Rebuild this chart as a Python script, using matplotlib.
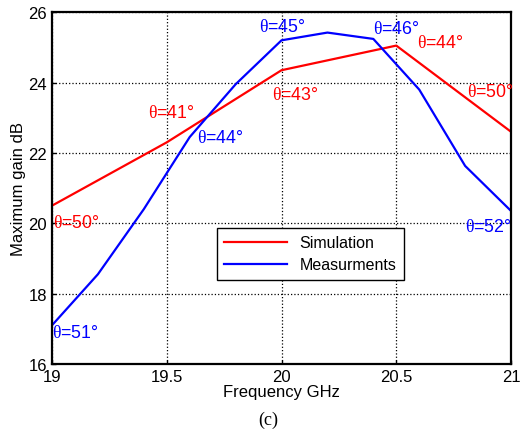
import matplotlib
matplotlib.use("Agg")
import matplotlib.pyplot as plt

plt.rcParams['font.family'] = ['Liberation Sans', 'DejaVu Sans']
plt.rcParams['mathtext.fontset'] = 'custom'
plt.rcParams['mathtext.rm'] = 'Liberation Serif'
plt.rcParams['mathtext.it'] = 'Liberation Serif'

# simulation curve
sim_freq = [19.0, 19.5, 20.0, 20.5, 21.0]
sim_gain = [20.5, 22.3, 24.35, 25.05, 22.6]

# measured curve
meas_freq = [19.0, 19.2, 19.4, 19.6, 19.8, 20.0, 20.2, 20.4, 20.6, 20.8, 21.0]
meas_gain = [17.1, 18.55, 20.4, 22.45, 23.95, 25.2, 25.42, 25.24, 23.8, 21.63, 20.35]

# angle annotations: (x, y, text, colour)
labels = [
    (19.42, 23.16, '41', 'red'),
    (19.63, 22.45, '44', 'blue'),
    (19.90, 25.60, '45', 'blue'),
    (20.40, 25.55, '46', 'blue'),
    (20.59, 25.15, '44', 'red'),
    (19.96, 23.67, '43', 'red'),
    (20.81, 23.74, '50', 'red'),
    (19.005, 20.03, '50', 'red'),
    (19.00, 16.90, '51', 'blue'),
    (20.80, 19.90, '52', 'blue'),
]

fig = plt.figure(figsize=(5.22, 4.39), dpi=100)
ax = fig.add_axes([0.0996, 0.1686, 0.8794, 0.8014])

ax.plot(sim_freq, sim_gain, color='red', lw=1.6, label='Simulation')
ax.plot(meas_freq, meas_gain, color='blue', lw=1.6, label='Measurments')

for x, y, ang, c in labels:
    ax.text(x, y, r'$\theta$=' + ang + '°', color=c, fontsize=12.8,
            ha='left', va='center')

ax.set_xlim(19, 21)
ax.set_ylim(16, 26)
ax.set_xticks([19, 19.5, 20, 20.5, 21])
ax.set_xticklabels(['19', '19.5', '20', '20.5', '21'])
ax.set_yticks([16, 18, 20, 22, 24, 26])
ax.tick_params(direction='in', labelsize=12, length=3, width=1)
ax.grid(True, color='black', linestyle=':', linewidth=0.9)
for s in ax.spines.values():
    s.set_linewidth(1.6)

ax.set_xlabel('Frequency GHz', fontsize=12, labelpad=0)
ax.set_ylabel('Maximum gain dB', fontsize=12, labelpad=2)

leg = ax.legend(loc='lower left', bbox_to_anchor=(0.36, 0.24), fontsize=11.5,
                handlelength=3.9, fancybox=False, framealpha=1,
                edgecolor='black', borderpad=0.45, labelspacing=0.45,
                borderaxespad=0)
leg.get_frame().set_linewidth(1.0)

fig.text(0.513, 0.043, '(c)', fontsize=13, family='Liberation Serif',
         ha='center', va='center')

fig.savefig('out.png', dpi=100)
